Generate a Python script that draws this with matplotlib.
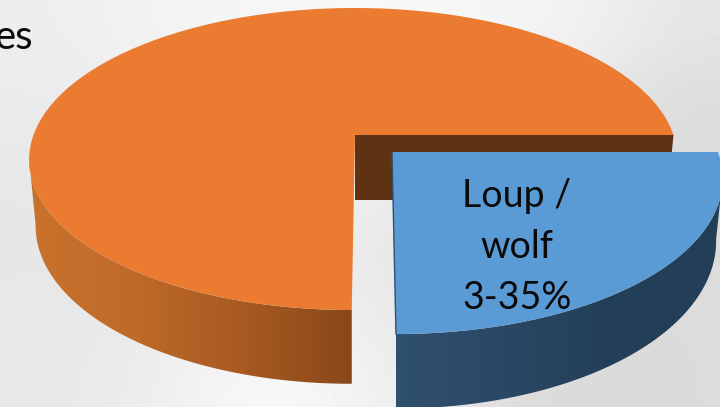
import numpy as np
import matplotlib
matplotlib.use('Agg')
import matplotlib.pyplot as plt
from matplotlib.patches import Polygon
from matplotlib.colors import LinearSegmentedColormap

# slices of the pie
labels = ['Autres', 'Loup /\nwolf\n3-35%']
values = [75, 25]
colors = ['#EA7B30', '#5B9BD5']

# backdrop greys (rows top to bottom)
backdrop = [
    [0.93, 0.95, 0.96, 0.97, 0.97, 0.96, 0.95, 0.90],
    [0.92, 0.93, 0.94, 0.96, 0.96, 0.94, 0.90, 0.86],
    [0.91, 0.92, 0.93, 0.94, 0.94, 0.92, 0.88, 0.86],
    [0.90, 0.91, 0.92, 0.93, 0.90, 0.88, 0.87, 0.86],
    [0.91, 0.91, 0.93, 0.94, 0.91, 0.88, 0.86, 0.86],
    [0.91, 0.92, 0.97, 0.97, 0.93, 0.87, 0.85, 0.86],
]
orange_side = ['#C9722D', '#BE6A28', '#A75A22', '#884819']
blue_side = ['#2F506F', '#2A4864', '#233F57', '#233F57']

fig = plt.figure(figsize=(7.2, 4.07), dpi=100)
ax = fig.add_axes([0, 0, 1, 1])
ax.set_xlim(0, 720)
ax.set_ylim(407, 0)
ax.axis('off')

ax.imshow(backdrop, extent=(0, 720, 407, 0), cmap='gray', vmin=0, vmax=1,
          interpolation='bicubic', aspect='auto', zorder=0)

K = 0.159


def face(theta, ox, oy, rx, ry, shear):
    # tilted disc: circle under a simple perspective
    u = np.cos(theta)
    v = np.sin(theta)
    d = 1 + K * v
    x = ox + rx * u / d + shear * (-ry * v / d)
    y = oy - ry * v / d
    return x, y


def lower(x, y, ox, oy, drop, grow):
    # same outline pushed down by the thickness of the pie
    return ox + 0.98 * (x - ox), oy + drop + grow * (y - oy)


def side(x, y, ox, oy, drop, grow, cols, zorder):
    xb, yb = lower(x, y, ox, oy, drop, grow)
    pts = np.r_[np.c_[x, y], np.c_[xb, yb][::-1]]
    poly = Polygon(pts, closed=True, fc='none', ec='none', zorder=zorder)
    ax.add_patch(poly)
    cmap = LinearSegmentedColormap.from_list('side', cols)
    grad = np.linspace(0, 1, 256).reshape(1, -1)
    im = ax.imshow(grad, extent=(pts[:, 0].min(), pts[:, 0].max(), 407, 0),
                   cmap=cmap, aspect='auto', zorder=zorder)
    im.set_clip_path(poly)
    ax.set_xlim(0, 720)
    ax.set_ylim(407, 0)


angles = np.cumsum([0] + values) / sum(values) * 2 * np.pi
turn = np.arcsin(K)

# orange slice
ox, oy = 355, 135
cx = 353.5
t = np.linspace(np.pi + turn, angles[1], 200)
x, y = face(t, cx, oy, 320, 147.2, -0.01)
side(x, y, cx, oy, 65, 1.05, orange_side, 1)

x0, y0 = face(np.array([0.0]), cx, oy, 320, 147.2, -0.01)
xb, yb = lower(x0, y0, cx, oy, 65, 1.05)
ax.add_patch(Polygon([(ox, oy), (x0[0], y0[0]), (xb[0], yb[0]), (ox, oy + 65)],
                     closed=True, fc='#5F3213', ec='none', zorder=2))

t = np.linspace(angles[0], angles[1], 400)
x, y = face(t, cx, oy, 320, 147.2, -0.01)
ax.fill(np.r_[ox, x], np.r_[oy, y], color=colors[0], lw=0, zorder=3)

# blue slice, pulled out of the pie
bx, by = 392, 152
t = np.linspace(angles[1], angles[2] - turn, 200)
x, y = face(t, bx, by, 326, 153.1, 0.022)
side(x, y, bx, by, 60, 1.08, blue_side, 4)
t = np.linspace(angles[1], angles[2], 200)
x, y = face(t, bx, by, 326, 153.1, 0.022)
ax.fill(np.r_[bx, x], np.r_[by, y], color=colors[1], lw=0, zorder=5)
ax.plot([bx, x[0]], [by, y[0]], color=blue_side[0], lw=1, zorder=5)

ax.text(517, 247, labels[1], ha='center', va='center', fontsize=27,
        family='Lato', color='#0A0A0A', linespacing=1.52, zorder=6)
ax.text(33, 49, labels[0][-2:], ha='right', va='baseline', fontsize=29,
        family='Lato', color='#0A0A0A', zorder=6)

fig.savefig('out.png', dpi=100)
